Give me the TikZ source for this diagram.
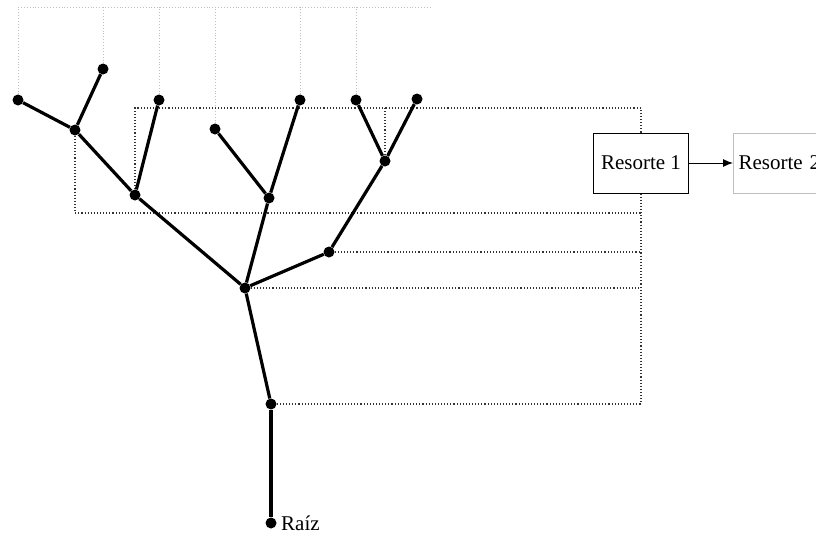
\documentclass[tikz,border=0pt]{standalone}
\usepackage{fontspec}
\setmainfont{Liberation Serif}
\usetikzlibrary{arrows.meta}
\begin{document}
\begin{tikzpicture}[x=1pt,y=-1pt,
  dot/.style={circle,fill=black,inner sep=0pt,minimum size=11pt},
  branch/.style={line width=3.2pt,black},
  guide/.style={dotted,line width=1.1pt,black!80},
  faint/.style={dotted,line width=0.9pt,black!25},
  springbox/.style={draw,line width=1pt,inner xsep=4pt,minimum height=60pt,font=\fontsize{21}{24}\selectfont}]
\useasboundingbox (0,0) rectangle (816,536);

% tree joints and leaves
\node[dot] (L1) at (18,100) {};
\node[dot] (L2) at (103,69) {};
\node[dot] (L3) at (159,100) {};
\node[dot] (L4) at (215,129) {};
\node[dot] (L5) at (300,100) {};
\node[dot] (L6) at (356,100) {};
\node[dot] (L7) at (417,99) {};
\node[dot] (A) at (75,130) {};
\node[dot] (B) at (135,195) {};
\node[dot] (C) at (269,198) {};
\node[dot] (D) at (385,161) {};
\node[dot] (E) at (329,252) {};
\node[dot] (F) at (245,288) {};
\node[dot] (G) at (271,404) {};
\node[dot,label={[font=\fontsize{21}{24}\selectfont,label distance=1pt]right:Raíz}] (R) at (271,523) {};

% springs
\node[springbox,minimum width=95pt] (s1) at (641,163) {Resorte 1};
\node[springbox,draw=black!25,anchor=west,inner xsep=2pt,minimum width=110pt,text width=100pt] (s2) at (733,163) {Resorte 2};
\draw[line width=1pt,-{Latex[length=10pt,width=8pt]}] (s1.east) -- (s2.west);

% helper coordinates for the guide lines
\coordinate (topR) at (641,108);
\coordinate (midR) at (641,213);
\coordinate (rx) at (641,0);
\coordinate (sky) at (0,7);
\coordinate (skyend) at (430,7);

% faint guides rising from the leaves
\foreach \n in {L1,L2,L3,L4,L5,L6}
  \draw[faint] (\n) -- (\n |- sky);
\draw[faint] (L1 |- sky) -- (skyend);

% dotted guides towards the springs
\draw[guide] (B) |- (topR) -- (s1.north);
\draw[guide] (D) -- (D |- topR);
\draw[guide] (A) |- (midR);
\draw[guide] (E) -- (E -| rx);
\draw[guide] (F) -- (F -| rx);
\draw[guide] (G) -- (G -| rx);
\draw[guide] (s1.south) -- (G -| rx);

% branches
\draw[branch] (L1) -- (A);
\draw[branch] (L2) -- (A);
\draw[branch] (A) -- (B);
\draw[branch] (L3) -- (B);
\draw[branch] (B) -- (F);
\draw[branch] (L4) -- (C);
\draw[branch] (L5) -- (C);
\draw[branch] (C) -- (F);
\draw[branch] (L6) -- (D);
\draw[branch] (L7) -- (D);
\draw[branch] (D) -- (E);
\draw[branch] (E) -- (F);
\draw[branch] (F) -- (G);
\draw[branch] (G) -- (R);
\end{tikzpicture}
\end{document}
